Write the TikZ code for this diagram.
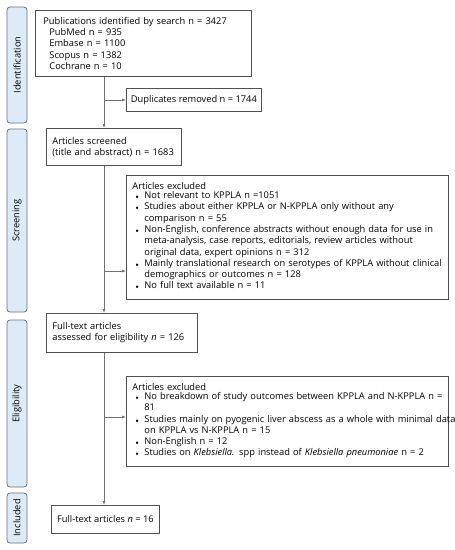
\documentclass[tikz,border=0pt]{standalone}
\usepackage{fontspec}
\setmainfont{Open Sans}
\usetikzlibrary{arrows.meta}
\definecolor{sidefill}{HTML}{DDEBF8}
\definecolor{sideline}{HTML}{6A6F75}
\definecolor{boxline}{HTML}{505050}
\definecolor{connline}{HTML}{707070}
\tikzset{
  phase/.style={draw=sideline, fill=sidefill, rounded corners=3pt, rotate=90, minimum height=20pt, inner sep=0pt, font=\fontsize{9.3}{11}\selectfont, line width=0.8pt},
  flowbox/.style={draw=boxline, line width=0.8pt, anchor=north west, align=left, inner xsep=6pt, inner ysep=0pt, font=\fontsize{9.3}{11.3}\selectfont},
  conn/.style={draw=connline, line width=0.6pt, -{Latex[length=4pt,width=3pt]}}
}
\newcommand{\bl}{\hspace{3pt}$\scriptscriptstyle\bullet$}
\begin{document}
\begin{tikzpicture}[x=1pt,y=-1pt]
\useasboundingbox (0,0) rectangle (455,550);
% phase bars
\node[phase, minimum width=116pt] (ident) at (17,65) {Identification};
\node[phase, minimum width=183pt] (screen) at (17,220.5) {Screening};
\node[phase, minimum width=167pt] (elig) at (17,403.5) {Eligibility};
\node[phase, minimum width=50pt] (incl) at (17,518) {Included};
% boxes
\node[flowbox, minimum width=216pt, minimum height=66pt, text width=204pt] (pub) at (35,10) {%
\hspace{2pt}Publications identified by search n = 3427\\
\hspace{8pt}PubMed n = 935\\
\hspace{8pt}Embase n = 1100\\
\hspace{8pt}Scopus n = 1382\\
\hspace{8pt}Cochrane n = 10};
\node[flowbox, minimum width=135pt, minimum height=23pt, inner xsep=3pt, align=center] (dup) at (126,88) {Duplicates removed n = 1744};
\node[flowbox, minimum width=135pt, minimum height=37pt, text width=123pt] (scr) at (46,128) {Articles screened\\(title and abstract) n = 1683};
\node[flowbox, minimum width=322pt, minimum height=124pt, text width=310pt] (exc1) at (126,175) {Articles excluded\\
\begin{tabular}{@{}p{12pt}@{}l@{}}
\bl & Not relevant to KPPLA n =1051\\
\bl & Studies about either KPPLA or N-KPPLA only without any\\
 & comparison n = 55\\
\bl & Non-English, conference abstracts without enough data for use in\\
 & meta-analysis, case reports, editorials, review articles without\\
 & original data, expert opinions n = 312\\
\bl & Mainly translational research on serotypes of KPPLA without clinical\\
 & demographics or outcomes n = 128\\
\bl & No full text available n = 11
\end{tabular}};
\node[flowbox, minimum width=151pt, minimum height=39pt, text width=139pt] (full) at (46,313) {Full-text articles\\assessed for eligibility \textit{n} = 126};
\node[flowbox, minimum width=322pt, minimum height=90pt, text width=310pt] (exc2) at (126,376) {Articles excluded\\
\begin{tabular}{@{}p{12pt}@{}l@{}}
\bl & No breakdown of study outcomes between KPPLA and N-KPPLA n =\\
 & 81\\
\bl & Studies mainly on pyogenic liver abscess as a whole with minimal data\\
 & on KPPLA vs N-KPPLA n = 15\\
\bl & Non-English n = 12\\
\bl & Studies on \textit{Klebsiella.} spp instead of \textit{Klebsiella pneumoniae} n = 2
\end{tabular}};
\node[flowbox, minimum width=108pt, minimum height=28pt, inner xsep=4pt, align=center] (inc) at (51,505) {Full-text articles \textit{n} = 16};
% spine
\coordinate (spine) at (104,0);
\path[conn] (spine |- pub.south) -- (spine |- scr.north);
\path[conn] (spine |- dup.west) -- (dup.west);
\path[conn] (spine |- scr.south) -- (spine |- full.north);
\path[conn] (spine |- full.south) -- (spine |- inc.north);
\path[conn] (spine |- 0,271) -- (exc1.west |- 0,271);
\path[conn] (spine |- 0,417) -- (exc2.west |- 0,417);
\end{tikzpicture}
\end{document}
